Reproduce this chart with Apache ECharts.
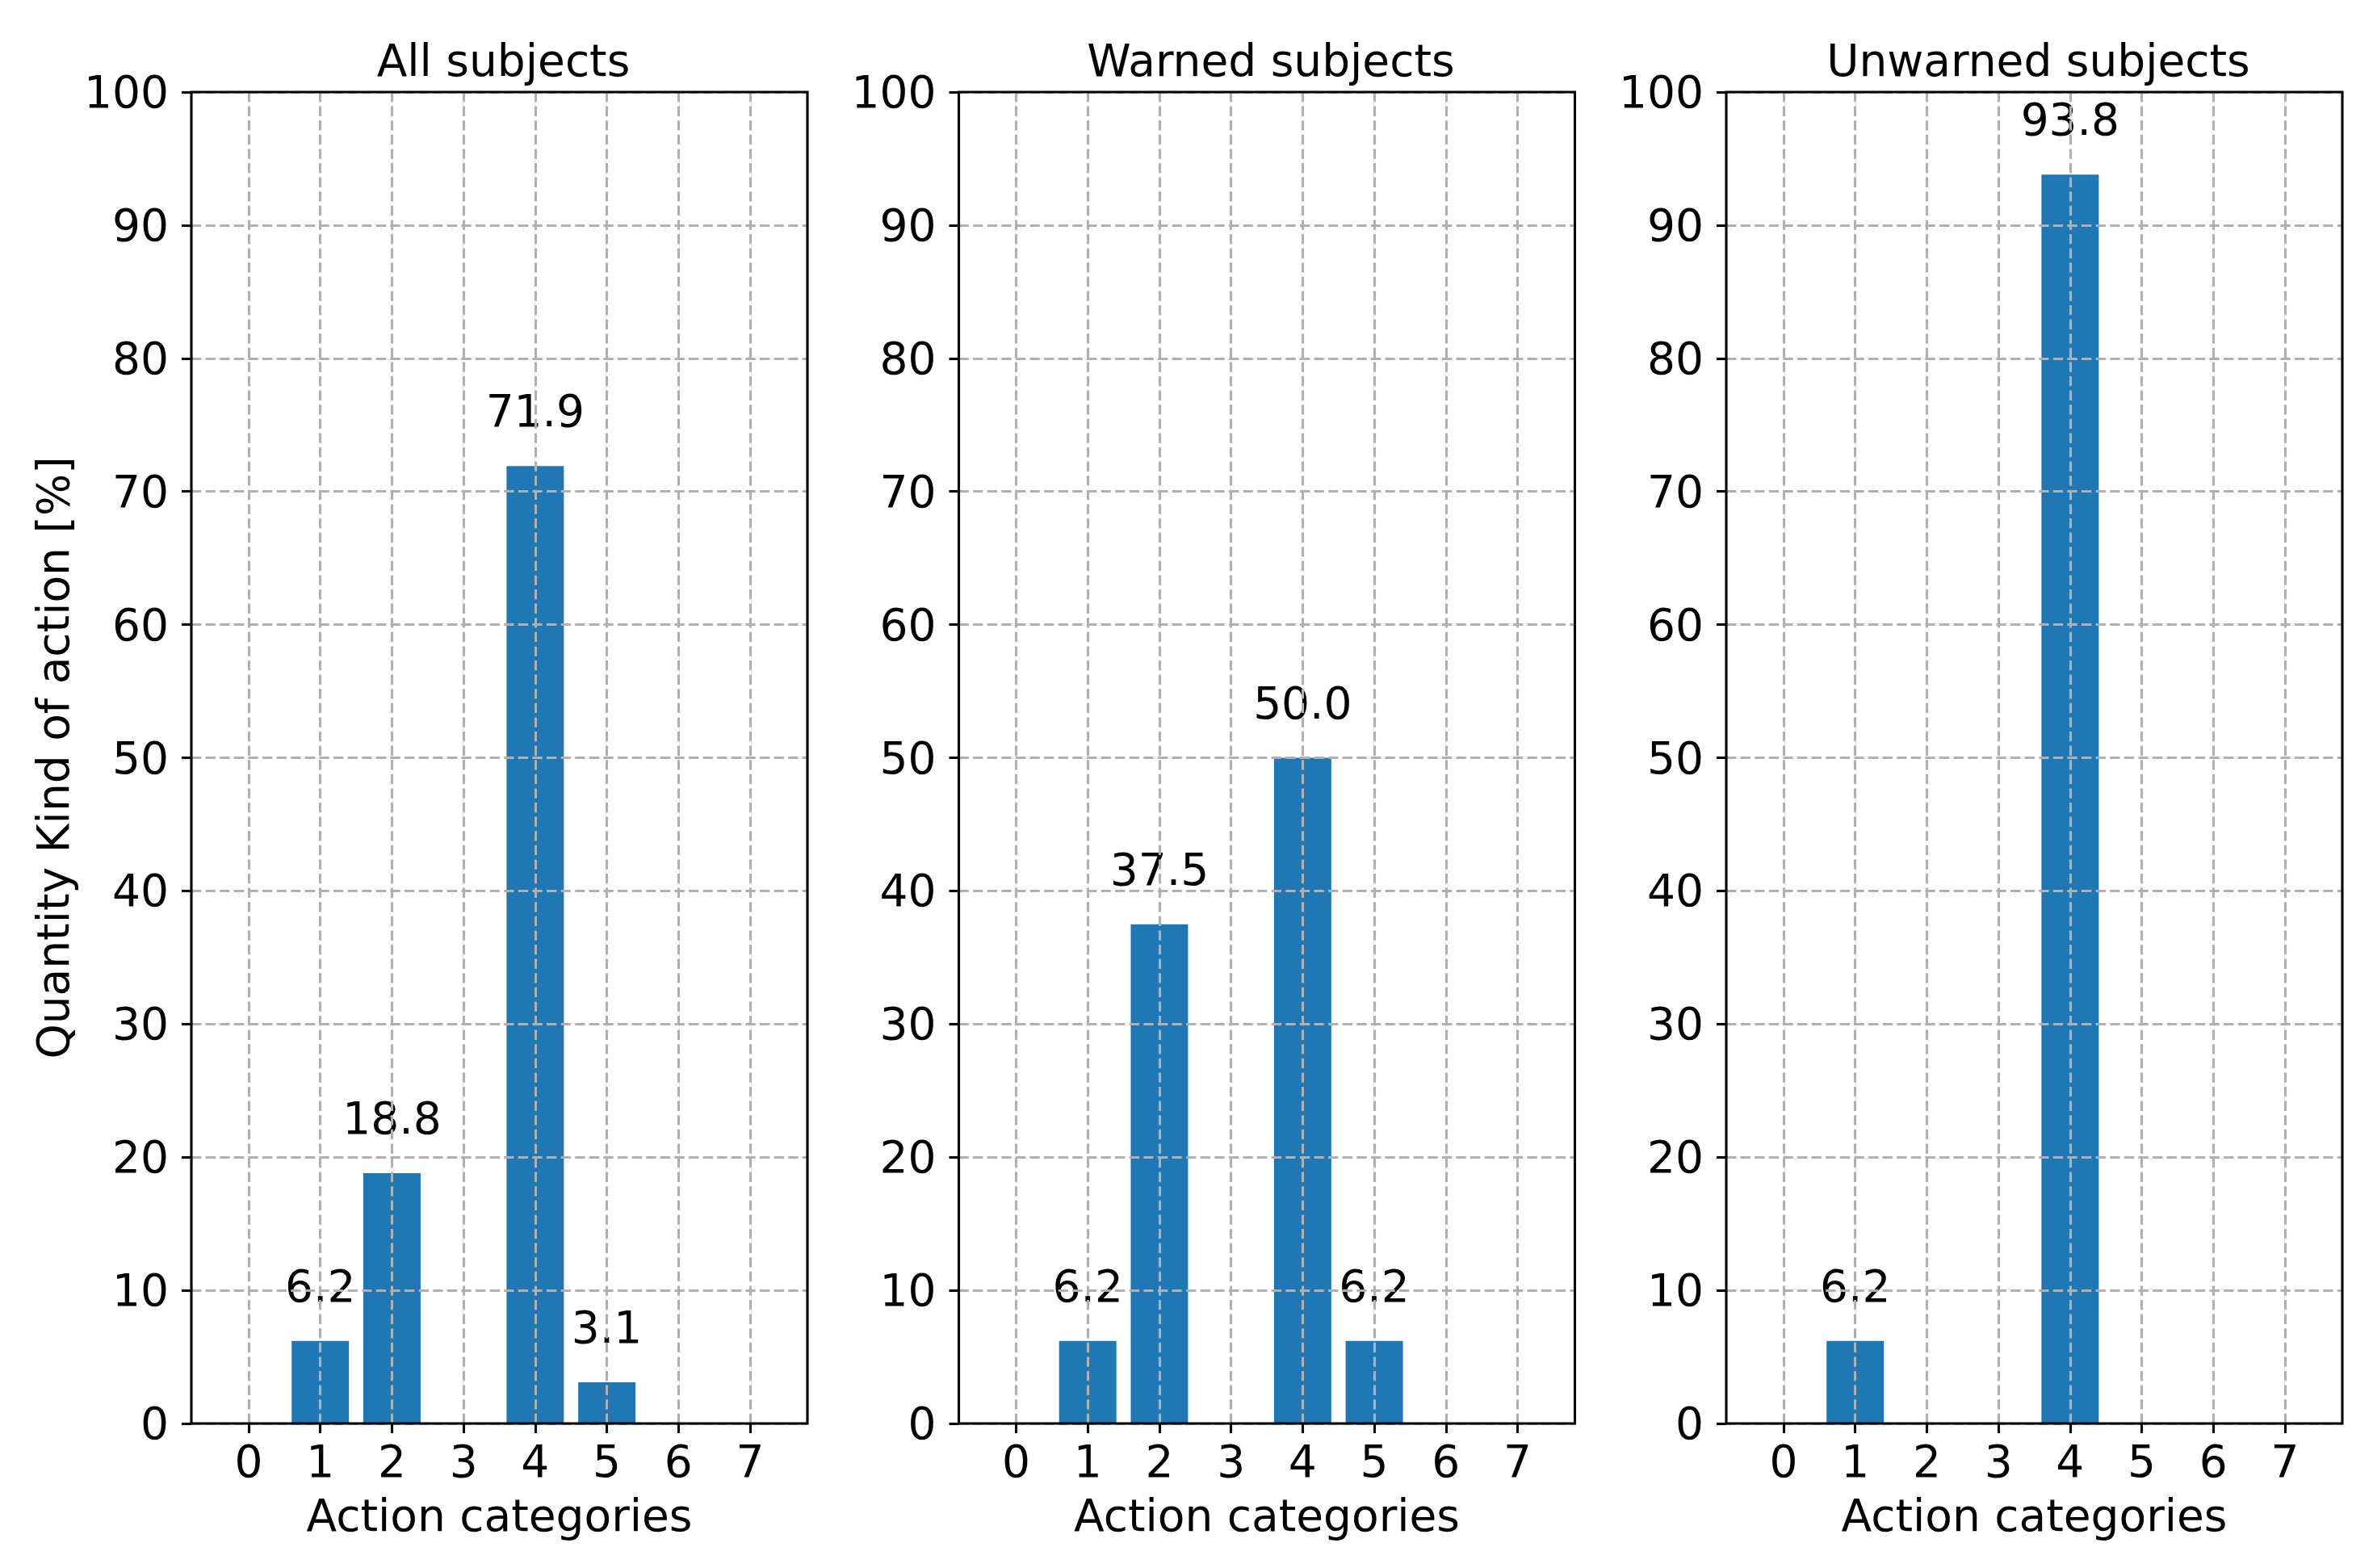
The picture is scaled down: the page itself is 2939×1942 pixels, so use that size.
<!DOCTYPE html>
<html>
<head>
<meta charset="utf-8">
<script src="https://cdn.jsdelivr.net/npm/echarts@6/dist/echarts.min.js"></script>
<style>
html,body{margin:0;padding:0;background:#fff;}
#chart{width:2939px;height:1942px;}
</style>
</head>
<body>
<div id="chart"></div>
<script>
// ---- data ----
const categories = [0, 1, 2, 3, 4, 5, 6, 7];
const panelTitles = ['All subjects', 'Warned subjects', 'Unwarned subjects'];
const allCats = [1, 2, 4, 5];
const allVals = [6.2, 18.8, 71.9, 3.1];
const warnedCats = [1, 2, 4, 5];
const warnedVals = [6.2, 37.5, 50.0, 6.2];
const unwarnedCats = [1, 4];
const unwarnedVals = [6.2, 93.8];
const xLabel = 'Action categories';
const yLabel = 'Quantity Kind of action [%]';

// ---- layout ----
const FONT = 'DejaVu Sans';
const FS = 55;
const LW = 3.1;
const TICKLEN = 12;
const panelLefts = [237, 1187.5, 2138];
const panelW = 763, panelTop = 114, panelH = 1649;
const xMinPad = 0.8, xMaxPad = 0.8;
const unit = panelW / (categories.length - 1 + xMinPad + xMaxPad);
const gridColor = '#b0b0b0';
const dash = [12.3, 5.3];

const panelData = [
  [allCats, allVals],
  [warnedCats, warnedVals],
  [unwarnedCats, unwarnedVals]
];

const grids = [], xAxes = [], yAxes = [], series = [], titles = [];

panelData.forEach((pd, p) => {
  const L = panelLefts[p];
  // frame grid (index 2p)
  grids.push({
    left: L, top: panelTop, width: panelW, height: panelH,
    show: true, borderColor: '#000', borderWidth: LW,
    backgroundColor: 'transparent', z: 10
  });
  // bar grid (index 2p+1)
  grids.push({
    left: L + xMinPad * unit, top: panelTop,
    width: (categories.length - 1) * unit, height: panelH,
    show: false
  });
  xAxes.push({
    gridIndex: 2 * p, type: 'value', min: -xMinPad, max: categories.length - 1 + xMaxPad,
    show: false, axisLine: { onZero: false }
  });
  xAxes.push({
    gridIndex: 2 * p + 1, type: 'value', min: categories[0], max: categories[categories.length - 1],
    interval: 1, z: 5,
    axisLine: { show: false, onZero: false },
    axisTick: { show: true, length: TICKLEN, inside: false, lineStyle: { color: '#000', width: LW } },
    axisLabel: {
      show: true, fontFamily: FONT, fontSize: FS, color: '#000', margin: 46.5,
      verticalAlign: 'middle', lineHeight: FS
    },
    splitLine: { show: true, lineStyle: { color: gridColor, width: LW, type: dash } },
    name: xLabel, nameLocation: 'middle', nameGap: 114,
    nameTextStyle: { fontFamily: FONT, fontSize: FS, color: '#000', verticalAlign: 'middle', lineHeight: FS }
  });
  yAxes.push({
    gridIndex: 2 * p, type: 'value', min: 0, max: 100, interval: 10, z: 5,
    axisLine: { show: false, onZero: false },
    axisTick: { show: true, length: TICKLEN, inside: false, lineStyle: { color: '#000', width: LW } },
    axisLabel: { show: true, fontFamily: FONT, fontSize: FS, color: '#000', margin: 28 },
    splitLine: { show: true, lineStyle: { color: gridColor, width: LW, type: dash } },
    name: p === 0 ? yLabel : '', nameLocation: 'middle', nameGap: 171,
    nameTextStyle: { fontFamily: FONT, fontSize: FS, color: '#000', verticalAlign: 'middle', lineHeight: FS }
  });
  yAxes.push({
    gridIndex: 2 * p + 1, type: 'value', min: 0, max: 100, show: false,
    axisLine: { onZero: false }
  });
  series.push({
    type: 'bar', xAxisIndex: 2 * p + 1, yAxisIndex: 2 * p + 1,
    data: pd[0].map((c, i) => [c, pd[1][i]]),
    barWidth: 0.8 * unit,
    itemStyle: { color: '#1f77b4' },
    z: 2,
    label: {
      show: true, position: 'top', distance: 68, verticalAlign: 'middle',
      fontFamily: FONT, fontSize: FS, color: '#000', lineHeight: FS,
      formatter: (prm) => prm.value[1].toFixed(1)
    },
    animation: false
  });
  titles.push({
    text: panelTitles[p], left: L + panelW / 2, top: 42, textAlign: 'center',
    textStyle: { fontFamily: FONT, fontSize: FS, fontWeight: 'normal', color: '#000', lineHeight: FS }
  });
});

const chart = echarts.init(document.getElementById('chart'), null, { renderer: 'svg' });
chart.setOption({
  backgroundColor: '#fff',
  animation: false,
  title: titles,
  grid: grids,
  xAxis: xAxes,
  yAxis: yAxes,
  series: series
});
</script>
</body>
</html>
